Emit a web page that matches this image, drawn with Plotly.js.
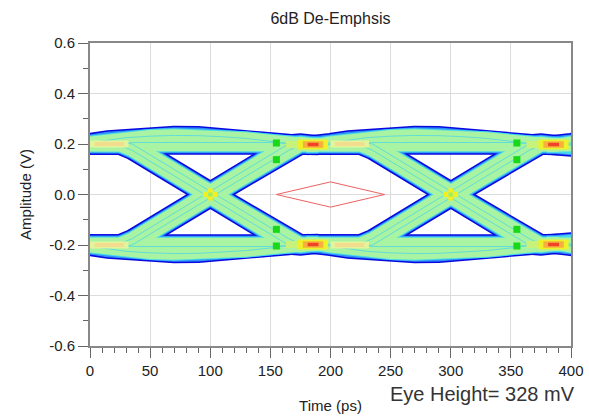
<!DOCTYPE html>
<html>
<head>
<meta charset="utf-8">
<script src="https://cdn.plot.ly/plotly-3.0.1.min.js"></script>
<style>html,body{margin:0;padding:0;background:#fff;}#chart{width:589px;height:417px;}</style>
</head>
<body>
<div id="chart"></div>
<script>
// ---- data (time in ps within one UI, sample point to sample point; amplitude in V) ----
const uiOffsets = [0, 200, 400];

const hiHumpT = [-20, -15, 0, 15, 30, 50, 70, 90, 110, 130, 150, 165, 175, 185, 190];
const hiHumpV = [0.194, 0.193, 0.205, 0.216, 0.225, 0.231, 0.234, 0.233, 0.229, 0.222, 0.212, 0.202, 0.196, 0.193, 0.194];
const hiFlatT = [-20, -15, 0, 20, 40, 150, 165, 175, 185, 190];
const hiFlatV = [0.196, 0.196, 0.200, 0.204, 0.206, 0.206, 0.203, 0.199, 0.196, 0.196];
const loHumpT = [-20, -15, 0, 15, 30, 50, 70, 90, 110, 130, 150, 165, 175, 185, 190];
const loHumpV = [-0.194, -0.193, -0.205, -0.216, -0.225, -0.231, -0.234, -0.233, -0.229, -0.222, -0.212, -0.202, -0.196, -0.193, -0.194];
const loFlatT = [-20, -15, 0, 20, 40, 150, 165, 175, 185, 190];
const loFlatV = [-0.196, -0.196, -0.200, -0.204, -0.206, -0.206, -0.203, -0.199, -0.196, -0.196];
const fallT  = [-20, 15, 25, 35, 100, 165, 175, 190];
const fallAV = [0.196, 0.200, 0.207, 0.200, 0.013, -0.174, -0.196, -0.196];
const fallBV = [0.196, 0.198, 0.195, 0.175, -0.013, -0.200, -0.204, -0.196];
const riseT  = [-20, 15, 25, 35, 100, 165, 175, 190];
const riseAV = [-0.196, -0.200, -0.207, -0.200, -0.013, 0.174, 0.196, 0.196];
const riseBV = [-0.196, -0.198, -0.195, -0.175, 0.013, 0.200, 0.204, 0.196];

// high-density spots
const hotT0 = [173, 373];
const hotT1 = [198, 398];
const hotV  = [0.198, -0.198];
const paleT0 = [0, 200];
const paleT1 = [32, 232];
const paleV = [0.200, -0.200];
const patchT = [155, 355];
const patchV = [0.204, 0.138, -0.204, -0.138];
const crossT = [100, 300];
const crossV = [0];

// eye mask
const maskT = [155, 200, 245, 200, 155];
const maskV = [0, 0.05, 0, -0.05, 0];

const xTickVals = [0, 50, 100, 150, 200, 250, 300, 350, 400];
const yTickVals = [-0.6, -0.4, -0.2, 0.0, 0.2, 0.4, 0.6];
const yTickText = ['-0.6', '-0.4', '-0.2', '0.0', '0.2', '0.4', '0.6'];
const eyeHeightText = 'Eye Height= 328 mV';

// ---- build ----
const paths = [[hiHumpT, hiHumpV], [hiFlatT, hiFlatV], [loHumpT, loHumpV], [loFlatT, loFlatV],
               [fallT, fallAV], [fallT, fallBV], [riseT, riseAV], [riseT, riseBV]];
const X = [], Y = [];
paths.forEach(([t, v]) => {
  uiOffsets.forEach(o => {
    t.forEach((ti, i) => { X.push(ti + o); Y.push(v[i]); });
    X.push(null); Y.push(null);
  });
});
function layer(color, width) {
  return {x: X, y: Y, mode: 'lines', line: {color: color, width: width, shape: 'linear'},
          hoverinfo: 'skip', showlegend: false};
}
function segs(t0, t1, vs) {
  const x = [], y = [];
  vs.forEach(v => t0.forEach((a, i) => { x.push(a, t1[i], null); y.push(v, v, null); }));
  return [x, y];
}
function bar(t0, t1, vs, color, width) {
  const [x, y] = segs(t0, t1, vs);
  return {x: x, y: y, mode: 'lines', line: {color: color, width: width}, hoverinfo: 'skip', showlegend: false};
}
function shrink(t0, t1, k) {
  return [t0.map((a, i) => a + (t1[i] - a) * k), t1.map((b, i) => b - (b - t0[i]) * k)];
}
const traces = [
  layer('#0808e0', 19.5),
  layer('#2f8ef5', 16.5),
  layer('#48d8ec', 14.5),
  layer('#a8f4a2', 12.5),
  layer('#64dcd8', 1),
];
// pale stripes after the sampling point
traces.push(bar(paleT0, paleT1, paleV, '#e4f49c', 7));
(() => { const [a, b] = shrink(paleT0, paleT1, 0.12); traces.push(bar(a, b, paleV, '#f2dc8e', 4)); })();
// lime lead-in to hot spots
traces.push(bar(hotT0.map(t => t - 10), hotT0.map(t => t + 3), hotV, '#c8f27a', 7));
// hot spots
traces.push(bar(hotT0, hotT1, hotV, '#eef22a', 10));
(() => { const [a, b] = shrink(hotT0, hotT1, 0.16); traces.push(bar(a, b, hotV, '#f7b03c', 6.5)); })();
(() => { const [a, b] = shrink(hotT0, hotT1, 0.32); traces.push(bar(a, b, hotV, '#f04428', 3.5)); })();
// green patches
(() => {
  const x = [], y = [];
  patchT.forEach(t => patchV.forEach(v => { x.push(t); y.push(v); }));
  traces.push({x: x, y: y, mode: 'markers', marker: {symbol: 'square', size: 7, color: '#18d818'},
               hoverinfo: 'skip', showlegend: false});
})();
// crossing spots
(() => {
  const x = [], y = [];
  crossT.forEach(t => crossV.forEach(v => {
    x.push(t - 4, t + 4, t, t); y.push(v, v, v + 0.014, v - 0.014);
  }));
  traces.push({x: x, y: y, mode: 'markers', marker: {symbol: 'square', size: 5, color: '#f2f020'},
               hoverinfo: 'skip', showlegend: false});
  traces.push({x: crossT, y: crossT.map(() => crossV[0]), mode: 'markers',
               marker: {symbol: 'square', size: 4, color: '#9cee60'}, hoverinfo: 'skip', showlegend: false});
})();
// mask
traces.push({x: maskT, y: maskV, mode: 'lines', line: {color: '#f06060', width: 1},
             hoverinfo: 'skip', showlegend: false});

const font = {family: 'Liberation Sans, Arial, sans-serif', color: '#222'};
const layout = {
  width: 589, height: 417,
  margin: {l: 90, r: 18, t: 43, b: 71},
  paper_bgcolor: '#fff', plot_bgcolor: '#fff',
  showlegend: false,
  title: {text: '6dB De-Emphsis', font: Object.assign({size: 16}, font), x: 0.561, xanchor: 'center', y: 0.955, yanchor: 'middle'},
  xaxis: {
    range: [0, 400], tickvals: xTickVals, ticks: 'outside', ticklen: 10, tickwidth: 1, tickcolor: '#666',
    showgrid: true, gridcolor: '#dcdcdc', gridwidth: 1, zeroline: false,
    showline: true, linecolor: '#888', linewidth: 2, mirror: true,
    tickfont: Object.assign({size: 15}, font),
    minor: {dtick: 10, ticks: 'outside', ticklen: 5, tickcolor: '#666', showgrid: false},
    title: {text: 'Time (ps)', font: Object.assign({size: 15}, font), standoff: 22},
  },
  yaxis: {
    range: [-0.6, 0.6], tickvals: yTickVals, ticktext: yTickText, ticks: 'outside', ticklen: 10, tickwidth: 1, tickcolor: '#666',
    showgrid: true, gridcolor: '#dcdcdc', gridwidth: 1, zeroline: false,
    showline: true, linecolor: '#888', linewidth: 2, mirror: true,
    tickfont: Object.assign({size: 15}, font),
    minor: {dtick: 0.1, ticks: 'outside', ticklen: 5, tickcolor: '#666', showgrid: false},
    title: {text: 'Amplitude (V)', font: Object.assign({size: 15}, font), standoff: 14},
  },
  annotations: [{
    text: eyeHeightText, xref: 'paper', yref: 'paper', x: 1.013, y: -0.158,
    xanchor: 'right', yanchor: 'middle', showarrow: false,
    font: Object.assign({size: 20}, font, {color: '#333'}),
  }],
};
Plotly.newPlot('chart', traces, layout, {staticPlot: true, displayModeBar: false});
</script>
</body>
</html>
